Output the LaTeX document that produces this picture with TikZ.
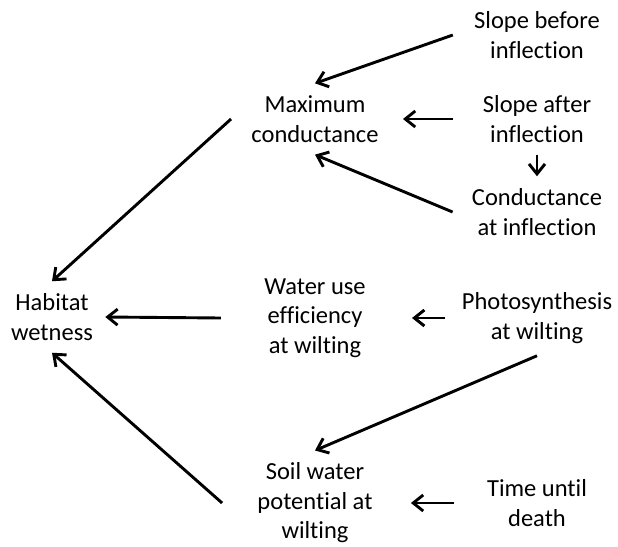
\documentclass[tikz,border=0pt]{standalone}
\usepackage{fontspec}
\setmainfont{Carlito}[Ligatures=NoCommon]
\usetikzlibrary{arrows.meta}

\begin{document}
\begin{tikzpicture}[x=0.5pt,y=-0.5pt]
    \tikzstyle{every node}+=[align=center, inner sep=6pt, font=\fontsize{12.25}{14.75}\selectfont]
    \tikzstyle{arr}=[black, line width=1.45pt, -{Straight Barb[length=5pt,width=8pt]}]
    \useasboundingbox (0,0) rectangle (618,547);
    % left column
    \node (hw) at (52,317) {Habitat\\wetness};
    % middle column
    \node (mc) at (315,119) {Maximum\\conductance};
    \node (wue) at (315,318) {Water use\\efficiency\\at wilting};
    \node (swp) at (315,503) {Soil water\\potential at\\wilting};
    % right column
    \node (sbi) at (537,35) {Slope before\\inflection};
    \node (sai) at (537,119) {Slope after\\inflection};
    \node (cai) at (537,212) {Conductance\\at inflection};
    \node (paw) at (537,318) {Photosynthesis\\at wilting};
    \node (tud) at (537,503) {Time until\\death};
    % arrows
    \draw [arr] ([xshift=-4.5pt]sbi.west) -- (mc.north);
    \draw [arr, shorten >=6pt] ([xshift=-9pt]sai.west) -- (mc.east);
    \draw [arr] ([xshift=-3.5pt]cai.west) -- (mc.south);
    \draw [arr] (sai.south) -- (cai.north);
    \draw [arr] ([xshift=-4pt]mc.west) -- (hw.north);
    \draw [arr] ([xshift=-15.5pt]wue.west) -- (hw.east);
    \draw [arr, shorten >=17pt] ([xshift=-2pt]paw.west) -- (wue.east);
    \draw [arr] (paw.south) -- (swp.north);
    \draw [arr] ([xshift=-11.5pt]swp.west) -- (hw.south);
    \draw [arr, shorten >=13pt] ([xshift=-10.5pt]tud.west) -- (swp.east);
\end{tikzpicture}
\end{document}
